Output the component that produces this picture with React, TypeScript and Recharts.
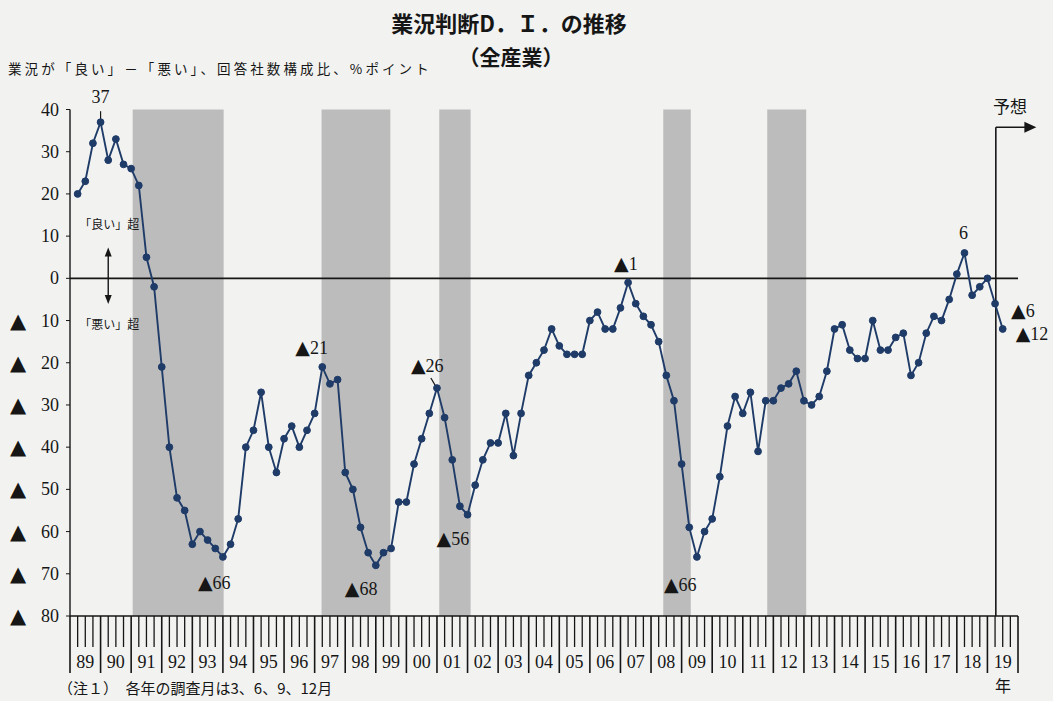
import React from "react";
import {
  LineChart,
  Line,
  XAxis,
  YAxis,
  ReferenceArea,
  ReferenceLine,
  ReferenceDot,
} from "recharts";

// 業況判断D.I.（全産業）quarterly, 1989/3 .. 2019/6 (last point = forecast)
const yearLabels = [
  "89", "90", "91", "92", "93", "94", "95", "96", "97", "98", "99",
  "00", "01", "02", "03", "04", "05", "06", "07", "08", "09",
  "10", "11", "12", "13", "14", "15", "16", "17", "18", "19",
];

const diValues = [
  20, 23, 32, 37, // 89
  28, 33, 27, 26, // 90
  22, 5, -2, -21, // 91
  -40, -52, -55, -63, // 92
  -60, -62, -64, -66, // 93
  -63, -57, -40, -36, // 94
  -27, -40, -46, -38, // 95
  -35, -40, -36, -32, // 96
  -21, -25, -24, -46, // 97
  -50, -59, -65, -68, // 98
  -65, -64, -53, -53, // 99
  -44, -38, -32, -26, // 00
  -33, -43, -54, -56, // 01
  -49, -43, -39, -39, // 02
  -32, -42, -32, -23, // 03
  -20, -17, -12, -16, // 04
  -18, -18, -18, -10, // 05
  -8, -12, -12, -7, // 06
  -1, -6, -9, -11, // 07
  -15, -23, -29, -44, // 08
  -59, -66, -60, -57, // 09
  -47, -35, -28, -32, // 10
  -27, -41, -29, -29, // 11
  -26, -25, -22, -29, // 12
  -30, -28, -22, -12, // 13
  -11, -17, -19, -19, // 14
  -10, -17, -17, -14, // 15
  -13, -23, -20, -13, // 16
  -9, -10, -5, 1, // 17
  6, -4, -2, 0, // 18
  -6, -12, // 19
];

const yTicks = [40, 30, 20, 10, 0, -10, -20, -30, -40, -50, -60, -70, -80];

// shaded periods, in quarters counted from Jan 1989
const recessions = [
  { from: 8.2, to: 20.1 },
  { from: 32.9, to: 41.9 },
  { from: 48.3, to: 52.4 },
  { from: 77.6, to: 81.2 },
  { from: 91.2, to: 96.3 },
];

const peakNotes = [
  { q: 4, v: 37, text: "37", dx: 0, dy: -19, anchor: "middle" },
  { q: 20, v: -66, text: "▲66", dx: -25, dy: 32, anchor: "start" },
  { q: 33, v: -21, text: "▲21", dx: -27, dy: -13, anchor: "start" },
  { q: 40, v: -68, text: "▲68", dx: -31, dy: 30, anchor: "start" },
  { q: 48, v: -26, text: "▲26", dx: -26, dy: -16, anchor: "start" },
  { q: 52, v: -56, text: "▲56", dx: -31, dy: 30, anchor: "start" },
  { q: 73, v: -1, text: "▲1", dx: -14, dy: -13, anchor: "start" },
  { q: 82, v: -66, text: "▲66", dx: -33, dy: 34, anchor: "start" },
  { q: 117, v: 6, text: "6", dx: -1, dy: -14, anchor: "middle" },
  { q: 121, v: -6, text: "▲6", dx: 16, dy: 13, anchor: "start" },
  { q: 122, v: -12, text: "▲12", dx: 13, dy: 11, anchor: "start" },
];

const data = diValues.map((v, i) => ({ q: i + 1, di: v }));
const xTicks = Array.from({ length: yearLabels.length * 4 + 1 }, (_, i) => i);

const INK = "#161616";
const LINE = "#1f3b68";
const SERIF = "'Liberation Serif', 'DejaVu Serif', serif";
const JP = "'Noto Sans CJK JP', sans-serif";

const RulerTick = ({ x, y, payload }: any) => {
  const q = payload.value;
  const isYear = q % 4 === 0;
  const label = q % 4 === 2 ? yearLabels[(q - 2) / 4] : null;
  return (
    <g>
      <line x1={x} x2={x} y1={y} y2={y + (isYear ? 57 : 31)} stroke={INK} strokeWidth={isYear ? 1.6 : 1.3} />
      {label && (
        <text x={x} y={y + 52} textAnchor="middle" fontSize={18} fontFamily={SERIF} fill={INK}>
          {label}
        </text>
      )}
    </g>
  );
};

const DiTick = ({ x, y, payload }: any) => {
  const v = payload.value;
  return (
    <g>
      {v < 0 && (
        <text x={x - 54} y={y + 7} fontSize={21} fontFamily="'DejaVu Sans', sans-serif" fill={INK}>
          ▲
        </text>
      )}
      <text x={x - 5} y={y + 6} textAnchor="end" fontSize={18} fontFamily={SERIF} fill={INK}>
        {Math.abs(v)}
      </text>
    </g>
  );
};

// splits a leading ▲ so it can be drawn larger, like the printed one
const noteShape = (n: any) => (p: any) => {
  const tri = n.text.startsWith("▲");
  const rest = tri ? n.text.slice(1) : n.text;
  return (
    <text x={p.cx + n.dx} y={p.cy + n.dy} textAnchor={n.anchor} fontSize={n.size || 18} fontFamily={n.font || SERIF} fill={INK}>
      {tri && (
        <tspan fontSize={19} fontFamily="'DejaVu Sans', sans-serif">
          ▲
        </tspan>
      )}
      <tspan>{rest}</tspan>
    </text>
  );
};

const arrowShape = (dir: string, w: number, h: number) => (p: any) => {
  const { cx, cy } = p;
  let d = "";
  if (dir === "right") d = `M${cx},${cy} L${cx - h},${cy - w / 2} L${cx - h},${cy + w / 2} Z`;
  if (dir === "up") d = `M${cx},${cy} L${cx - w / 2},${cy + h} L${cx + w / 2},${cy + h} Z`;
  if (dir === "down") d = `M${cx},${cy} L${cx - w / 2},${cy - h} L${cx + w / 2},${cy - h} Z`;
  return <path d={d} fill={INK} />;
};

export default function App() {
  return (
    <div
      style={{
        position: "absolute",
        left: 0,
        top: 0,
        width: 1053,
        height: 701,
        overflow: "hidden",
        background: "#f2f3f1",
        color: INK,
      }}
    >
      <div style={{ position: "absolute", left: 0, width: 1018, top: 6, textAlign: "center", fontFamily: JP, fontWeight: 700, fontSize: 22 }}>
        業況判断D．Ｉ．の推移
      </div>
      <div style={{ position: "absolute", left: 0, width: 1022, top: 41, textAlign: "center", fontFamily: JP, fontWeight: 700, fontSize: 21 }}>
        （全産業）
      </div>
      <div style={{ position: "absolute", left: 8, top: 58, fontFamily: JP, fontSize: 13.5, letterSpacing: 3.1, whiteSpace: "nowrap" }}>
        業況が「良い」－「悪い」、回答社数構成比、%ポイント
      </div>

      <LineChart
        width={1053}
        height={701}
        data={data}
        margin={{ top: 109.5, right: 35, bottom: 25, left: 10 }}
        style={{ position: "absolute", left: 0, top: 0 }}
      >
        <XAxis
          dataKey="q"
          type="number"
          domain={[0, yearLabels.length * 4]}
          ticks={xTicks}
          interval={0}
          tick={<RulerTick />}
          tickLine={false}
          tickSize={0}
          tickMargin={0}
          height={60}
          axisLine={{ stroke: INK, strokeWidth: 1.6 }}
        />
        <YAxis
          type="number"
          domain={[-80, 40]}
          ticks={yTicks}
          interval={0}
          width={60}
          tick={<DiTick />}
          tickSize={4}
          tickMargin={2}
          tickLine={{ stroke: INK }}
          axisLine={{ stroke: INK, strokeWidth: 1.4 }}
        />

        {recessions.map((r, i) => (
          <ReferenceArea key={i} x1={r.from} x2={r.to} y1={-80} y2={40} fill="#bcbcbc" fillOpacity={1} stroke="none" />
        ))}

        <ReferenceLine y={0} stroke={INK} strokeWidth={1.6} />

        {/* 予想 marker */}
        <ReferenceLine segment={[{ x: 121.1, y: -80 }, { x: 121.1, y: 35.8 }]} stroke={INK} strokeWidth={1.6} ifOverflow="visible" />
        <ReferenceLine segment={[{ x: 121.1, y: 35.8 }, { x: 125.2, y: 35.8 }]} stroke={INK} strokeWidth={1.6} ifOverflow="visible" />
        <ReferenceDot x={126.4} y={35.8} r={0} ifOverflow="visible" shape={arrowShape("right", 11, 12)} />

        {/* 良い超 / 悪い超 arrow */}
        <ReferenceLine segment={[{ x: 5, y: 6 }, { x: 5, y: -4.8 }]} stroke={INK} strokeWidth={1.4} ifOverflow="visible" />
        <ReferenceDot x={5} y={7.3} r={0} ifOverflow="visible" shape={arrowShape("up", 7, 9)} />
        <ReferenceDot x={5} y={-6.1} r={0} ifOverflow="visible" shape={arrowShape("down", 7, 9)} />
        <ReferenceDot x={1.2} y={11.7} r={0} ifOverflow="visible" shape={noteShape({ text: "「良い」超", dx: 0, dy: 0, anchor: "start", size: 12, font: JP })} />
        <ReferenceDot x={1.2} y={-12} r={0} ifOverflow="visible" shape={noteShape({ text: "「悪い」超", dx: 0, dy: 0, anchor: "start", size: 12, font: JP })} />

        {/* leader lines */}
        <ReferenceLine segment={[{ x: 4, y: 37 }, { x: 4, y: 39.6 }]} stroke={INK} strokeWidth={1.2} />
        <ReferenceLine segment={[{ x: 47.2, y: -23.6 }, { x: 47.85, y: -25.6 }]} stroke={INK} strokeWidth={1.2} />

        <Line
          type="linear"
          dataKey="di"
          stroke={LINE}
          strokeWidth={1.9}
          dot={{ r: 3.4, fill: LINE, stroke: LINE, strokeWidth: 1 }}
          isAnimationActive={false}
        />

        {peakNotes.map((n, i) => (
          <ReferenceDot key={i} x={n.q} y={n.v} r={0} ifOverflow="visible" shape={noteShape(n)} />
        ))}
      </LineChart>

      <div style={{ position: "absolute", left: 993, top: 93, fontFamily: JP, fontSize: 17 }}>予想</div>
      <div style={{ position: "absolute", left: 995, top: 675, fontFamily: JP, fontSize: 16, lineHeight: "20px" }}>年</div>
      <div style={{ position: "absolute", left: 58, top: 678, fontFamily: JP, fontSize: 15, lineHeight: "20px", whiteSpace: "nowrap" }}>
        （注１）　各年の調査月は3、6、9、12月
      </div>
    </div>
  );
}
